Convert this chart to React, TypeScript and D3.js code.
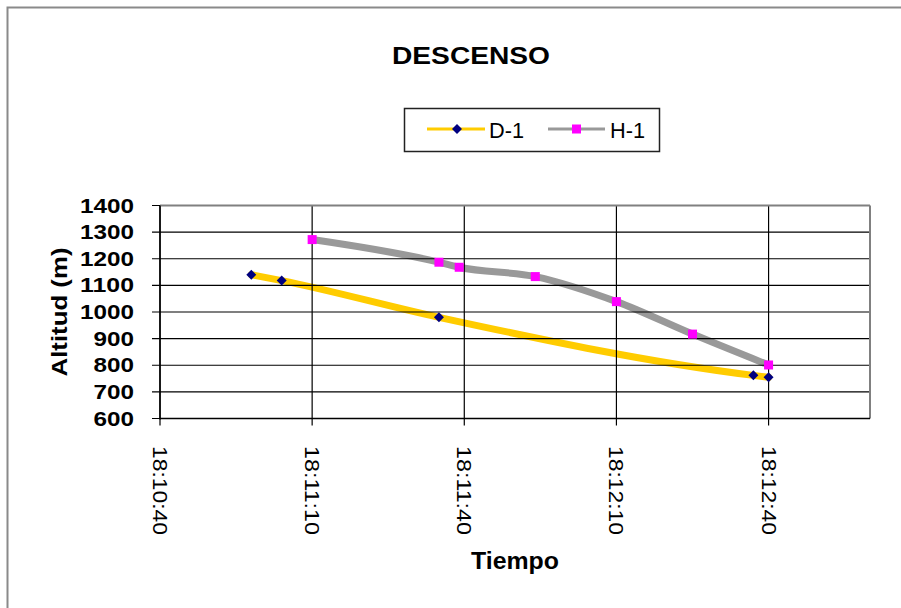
import React from "react";
import * as d3 from "d3";

const title = "DESCENSO";
const xTitle = "Tiempo";
const yTitle = "Altitud  (m)";
const seriesNames = ["D-1", "H-1"];
const d1Times = ["18:10:58", "18:11:04", "18:11:35", "18:12:37", "18:12:40"];
const d1Alt = [1140, 1118, 980, 762, 755];
const h1Times = ["18:11:10", "18:11:35", "18:11:39", "18:11:54", "18:12:10", "18:12:25", "18:12:40"];
const h1Alt = [1272, 1187, 1168, 1133, 1039, 917, 801];
const xTickLabels = ["18:10:40", "18:11:10", "18:11:40", "18:12:10", "18:12:40"];
const xDomain = ["18:10:40", "18:13:00"];
const yTicks = [600, 700, 800, 900, 1000, 1100, 1200, 1300, 1400];

const FONT = "'Liberation Sans', Arial, sans-serif";

export default function App() {
  const parse = d3.timeParse("%H:%M:%S");
  const left = 160, right = 870, top = 205.5, bottom = 418.5;
  const x = d3.scaleTime().domain(xDomain.map((t) => parse(t) as Date)).range([left, right]);
  const y = d3.scaleLinear().domain([600, 1400]).range([bottom, top]);

  const d1 = d1Times.map((t, i) => ({ t: parse(t) as Date, v: d1Alt[i] }));
  const h1 = h1Times.map((t, i) => ({ t: parse(t) as Date, v: h1Alt[i] }));

  const line = d3
    .line<{ t: Date; v: number }>()
    .x((d) => x(d.t))
    .y((d) => y(d.v))
    .curve(d3.curveMonotoneX);

  const diamond = (cx: number, cy: number, r: number) =>
    `M${cx},${cy - r}L${cx + r},${cy}L${cx},${cy + r}L${cx - r},${cy}Z`;

  const xTicks = xTickLabels.map((t) => parse(t) as Date);

  return (
    <svg
      width={901}
      height={608}
      style={{ position: "absolute", left: 0, top: 0, background: "#fff" }}
      fontFamily={FONT}
    >
      <rect x={0} y={0} width={901} height={608} fill="#fff" />
      {/* chart frame */}
      <rect x={7.5} y={7.5} width={1200} height={1200} fill="none" stroke="#8a8a8a" strokeWidth={2} />

      {/* title */}
      <text x={471} y={63.5} textAnchor="middle" fontSize={24} fontWeight="bold" textLength={158} lengthAdjust="spacingAndGlyphs">
        {title}
      </text>

      {/* legend */}
      <g>
        <rect x={404.5} y={108.5} width={255} height={43} fill="#fff" stroke="#222" strokeWidth={1.5} />
        <line x1={427} x2={485} y1={129} y2={129} stroke="#FFCC00" strokeWidth={3} />
        <path d={diamond(457, 129, 5)} fill="#000080" />
        <text x={489} y={137.5} fontSize={22} textLength={35} lengthAdjust="spacingAndGlyphs">{seriesNames[0]}</text>
        <line x1={548} x2={605} y1={129} y2={129} stroke="#999999" strokeWidth={3} />
        <rect x={572} y={124.5} width={9} height={9} fill="#FF00FF" />
        <text x={610} y={137.5} fontSize={22} textLength={35} lengthAdjust="spacingAndGlyphs">{seriesNames[1]}</text>
      </g>

      {/* plot series (under grid) */}
      <path d={line(d1) || ""} fill="none" stroke="#FFCC00" strokeWidth={7} strokeLinecap="round" />
      <path d={line(h1) || ""} fill="none" stroke="#999999" strokeWidth={7} strokeLinecap="round" />

      {/* horizontal gridlines */}
      {yTicks.map((v) => (
        <line key={"h" + v} x1={left - 8} x2={right} y1={y(v)} y2={y(v)} stroke="#000" strokeWidth={1.2} />
      ))}
      {/* vertical gridlines */}
      {xTicks.map((t, i) => (
        <line key={"v" + i} x1={x(t)} x2={x(t)} y1={top} y2={bottom + 7} stroke="#000" strokeWidth={1.2} />
      ))}
      {/* plot border */}
      <line x1={left} x2={right} y1={top} y2={top} stroke="#808080" strokeWidth={2} />
      <line x1={right} x2={right} y1={top} y2={bottom} stroke="#808080" strokeWidth={2} />
      <line x1={left} x2={left} y1={top} y2={bottom + 1} stroke="#000" strokeWidth={1.5} />
      <line x1={left} x2={right} y1={bottom} y2={bottom} stroke="#000" strokeWidth={1.5} />

      {/* markers */}
      {d1.map((d, i) => (
        <path key={"dm" + i} d={diamond(x(d.t), y(d.v), 5)} fill="#000080" />
      ))}
      {h1.map((d, i) => (
        <rect key={"hm" + i} x={x(d.t) - 4.5} y={y(d.v) - 4.5} width={9} height={9} fill="#FF00FF" />
      ))}

      {/* y tick labels */}
      {yTicks.map((v) => (
        <text
          key={"yl" + v}
          x={134}
          y={y(v)}
          textAnchor="end"
          dominantBaseline="central"
          fontSize={20}
          fontWeight="bold"
          textLength={String(v).length * 13.5}
          lengthAdjust="spacingAndGlyphs"
        >
          {v}
        </text>
      ))}

      {/* x tick labels */}
      {xTicks.map((t, i) => (
        <text
          key={"xl" + i}
          transform={`translate(${x(t)},446) rotate(90)`}
          dominantBaseline="central"
          fontSize={20}
          textLength={89}
          lengthAdjust="spacingAndGlyphs"
        >
          {xTickLabels[i]}
        </text>
      ))}

      {/* axis titles */}
      <text
        transform={`translate(67,${(top + bottom) / 2}) rotate(-90)`}
        textAnchor="middle"
        fontSize={22}
        fontWeight="bold"
        textLength={129}
        lengthAdjust="spacingAndGlyphs"
      >
        {yTitle}
      </text>
      <text x={(left + right) / 2} y={569} textAnchor="middle" fontSize={23} fontWeight="bold" textLength={88} lengthAdjust="spacingAndGlyphs">
        {xTitle}
      </text>
    </svg>
  );
}
